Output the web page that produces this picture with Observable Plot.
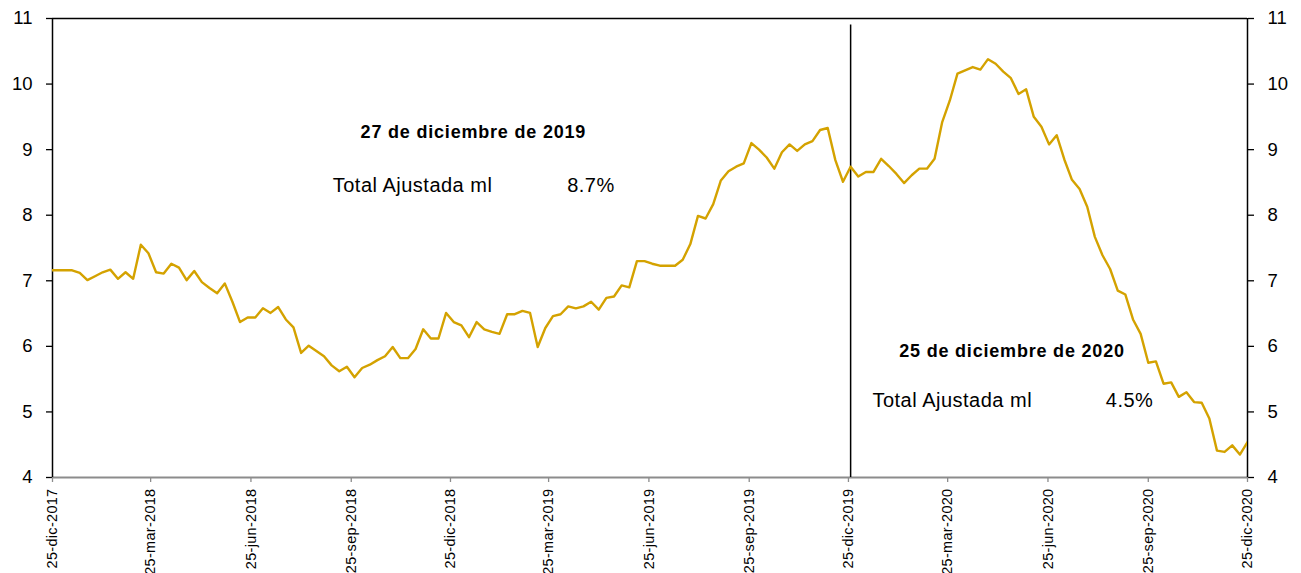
<!DOCTYPE html>
<html>
<head>
<meta charset="utf-8">
<script src="https://cdn.jsdelivr.net/npm/d3@7"></script>
<script src="https://cdn.jsdelivr.net/npm/@observablehq/plot@0.6"></script>
<style>
  html, body { margin: 0; padding: 0; background: #fff; }
  #chart svg { display: block; }
  g[aria-label="x-axis tick label"] text { letter-spacing: 0.3px; }
  .bold-note text { letter-spacing: 0.8px; }
  .plain-note text { letter-spacing: 0.5px; }
</style>
</head>
<body>
<div id="chart"></div>
<script>
// Weekly (Friday) series, first Friday 2017-12-22 (clipped at axis start) to 2020-12-25
const firstFriday = "2017-12-22";
const values = [
  7.16,
  7.16, 7.16, 7.16, 7.12, 7.01, 7.07, 7.13, 7.17, 7.03, 7.13,
  7.03, 7.55, 7.42, 7.13, 7.11, 7.26, 7.20, 7.01, 7.15, 6.98,
  6.89, 6.81, 6.96, 6.68, 6.37, 6.44, 6.44, 6.58, 6.51, 6.60,
  6.41, 6.29, 5.90, 6.01, 5.93, 5.85, 5.71, 5.62, 5.69, 5.53,
  5.67, 5.72, 5.79, 5.85, 5.99, 5.82, 5.82, 5.96, 6.26, 6.12,
  6.12, 6.51, 6.37, 6.32, 6.14, 6.37, 6.26, 6.22, 6.19, 6.49,
  6.49, 6.54, 6.51, 5.99, 6.28, 6.46, 6.49, 6.61, 6.58, 6.61,
  6.68, 6.56, 6.74, 6.76, 6.93, 6.90, 7.30, 7.30, 7.26, 7.23,
  7.23, 7.23, 7.32, 7.56, 7.99, 7.95, 8.17, 8.53, 8.67, 8.74,
  8.79, 9.10, 9.00, 8.88, 8.71, 8.96, 9.08, 8.98, 9.08, 9.13,
  9.30, 9.33, 8.84, 8.51, 8.74, 8.59, 8.66, 8.66, 8.86, 8.75,
  8.63, 8.49, 8.61, 8.71, 8.71, 8.86, 9.42, 9.75, 10.16, 10.21,
  10.26, 10.22, 10.38, 10.31, 10.19, 10.09, 9.85, 9.92, 9.50, 9.35,
  9.08, 9.22, 8.85, 8.54, 8.40, 8.13, 7.67, 7.39, 7.18, 6.85,
  6.79, 6.41, 6.19, 5.75, 5.77, 5.43, 5.45, 5.23, 5.30, 5.15,
  5.14, 4.90, 4.41, 4.39, 4.49, 4.35, 4.54
];

const xDomain = ["2017-12-25", "2020-12-25"];
const xTickDates = ["2017-12-25","2018-03-25","2018-06-25","2018-09-25","2018-12-25",
  "2019-03-25","2019-06-25","2019-09-25","2019-12-25","2020-03-25","2020-06-25",
  "2020-09-25","2020-12-25"];
const xTickLabels = ["25-dic-2017","25-mar-2018","25-jun-2018","25-sep-2018","25-dic-2018",
  "25-mar-2019","25-jun-2019","25-sep-2019","25-dic-2019","25-mar-2020","25-jun-2020",
  "25-sep-2020","25-dic-2020"];
const yTicks = [4, 5, 6, 7, 8, 9, 10, 11];

const markerDate = "2019-12-27";

// annotations: [date, value, text]
const boldNotes = [
  ["2019-01-15", 9.18, "27 de diciembre de 2019"],
  ["2020-05-23", 5.84, "25 de diciembre de 2020"]
];
const plainNotes = [
  ["2018-09-08", 8.36, "Total Ajustada ml"],
  ["2019-04-11", 8.36, "8.7%"],
  ["2020-01-16", 5.08, "Total Ajustada ml"],
  ["2020-08-17", 5.08, "4.5%"]
];

const t0 = new Date(firstFriday + "T00:00:00Z");
const data = values.map((v, i) => ({date: d3.utcDay.offset(t0, 7 * i), value: v}));
const D = s => new Date(s + "T00:00:00Z");
const labelByTime = new Map(xTickDates.map((d, i) => [+D(d), xTickLabels[i]]));

const font = "'Liberation Sans', Arial, Helvetica, sans-serif";

const chart = Plot.plot({
  width: 1301,
  height: 573,
  marginLeft: 52,
  marginRight: 54,
  marginTop: 18,
  marginBottom: 96,
  style: {fontFamily: font, background: "#fff", color: "#000", overflow: "visible"},
  x: {type: "utc", domain: xDomain.map(D), label: null},
  y: {domain: [4, 11], label: null},
  marks: [
    Plot.axisY(yTicks, {anchor: "left", label: null, tickSize: 6, tickPadding: 14, fontSize: 18.5,
      tickFormat: d => String(d), stroke: "#000", strokeWidth: 1.3}),
    Plot.axisY(yTicks, {anchor: "right", label: null, tickSize: 6, tickPadding: 14, fontSize: 18.5,
      tickFormat: d => String(d), stroke: "#000", strokeWidth: 1.3}),
    Plot.axisX(xTickDates.map(D), {anchor: "bottom", label: null, tickSize: 5, tickPadding: 6,
      tickRotate: -90, fontSize: 14.5, stroke: "#8c8c8c", strokeWidth: 1.3,
      tickFormat: d => labelByTime.get(+d)}),
    Plot.ruleY([4], {stroke: "#8c8c8c", strokeWidth: 2}),
    Plot.ruleY([11], {stroke: "#000", strokeWidth: 1.5}),
    Plot.ruleX([D(xDomain[0])], {stroke: "#000", strokeWidth: 1.5}),
    Plot.ruleX([D(xDomain[1])], {stroke: "#000", strokeWidth: 1.5}),
    Plot.ruleX([D(markerDate)], {y1: 4, y2: 10.9, stroke: "#000", strokeWidth: 1.5}),
    Plot.lineY(data, {x: "date", y: "value", stroke: "#d4a200", strokeWidth: 2.4,
      clip: true, curve: "linear"}),
    Plot.text(boldNotes, {x: d => D(d[0]), y: d => d[1], text: d => d[2],
      fontWeight: "bold", fontSize: 18, textAnchor: "middle", lineAnchor: "bottom",
      fill: "#000", className: "bold-note"}),
    Plot.text(plainNotes, {x: d => D(d[0]), y: d => d[1], text: d => d[2],
      fontSize: 20, textAnchor: "start", lineAnchor: "bottom",
      fill: "#000", className: "plain-note"})
  ]
});

document.getElementById("chart").appendChild(chart);
</script>
</body>
</html>
